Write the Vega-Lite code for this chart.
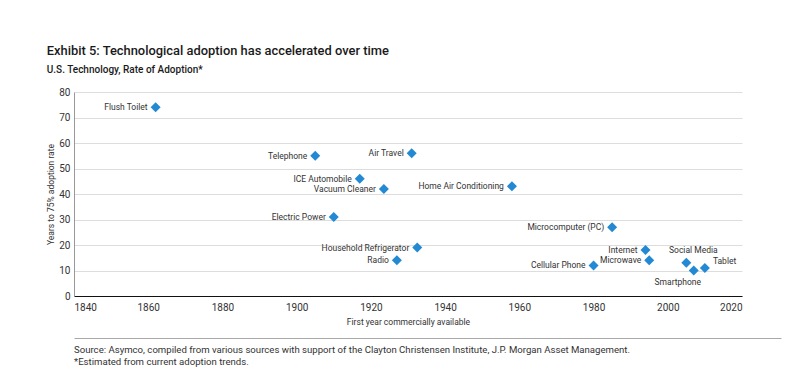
{
  "$schema": "https://vega.github.io/schema/vega-lite/v6.json",
  "background": "white",
  "padding": {"left": 46, "top": 45, "right": 10, "bottom": 2},
  "config": {"view": {"stroke": null}, "font": "Roboto"},
  "title": {
    "text": "Exhibit 5: Technological adoption has accelerated over time",
    "subtitle": "U.S. Technology, Rate of Adoption*",
    "anchor": "start",
    "font": "Roboto",
    "fontSize": 12.9,
    "fontWeight": 500,
    "color": "#1a1a1a",
    "subtitleFont": "Roboto",
    "subtitleFontSize": 10,
    "subtitleFontWeight": 500,
    "subtitleColor": "#1a1a1a",
    "subtitlePadding": 7,
    "offset": 12
  },
  "spacing": 12,
  "vconcat": [
    {
      "width": 668,
      "height": 204,
      "data": {
        "values": [
          {"name": "Flush Toilet", "year": 1862, "years": 74},
          {"name": "Telephone", "year": 1905, "years": 55},
          {"name": "Air Travel", "year": 1931, "years": 56},
          {"name": "ICE Automobile", "year": 1917, "years": 46},
          {"name": "Vacuum Cleaner", "year": 1923.5, "years": 42},
          {"name": "Electric Power", "year": 1910, "years": 31},
          {"name": "Household Refrigerator", "year": 1932.5, "years": 19},
          {"name": "Radio", "year": 1927, "years": 14},
          {"name": "Home Air Conditioning", "year": 1958, "years": 43},
          {"name": "Microcomputer (PC)", "year": 1985, "years": 27},
          {"name": "Internet", "year": 1994, "years": 18},
          {"name": "Microwave", "year": 1995, "years": 14},
          {"name": "Cellular Phone", "year": 1980, "years": 12},
          {"name": "Social Media", "year": 2005, "years": 13},
          {"name": "Smartphone", "year": 2007, "years": 10},
          {"name": "Tablet", "year": 2010, "years": 11}
        ]
      },
      "encoding": {
        "x": {
          "field": "year",
          "type": "quantitative",
          "scale": {"domain": [1840, 2020], "nice": false, "zero": false},
          "axis": {
            "values": [1840, 1860, 1880, 1900, 1920, 1940, 1960, 1980, 2000, 2020],
            "format": "d",
            "title": "First year commercially available",
            "grid": false,
            "ticks": false,
            "domainColor": "#111",
            "domainWidth": 1.2,
            "labelFontSize": 10,
            "labelColor": "#333",
            "labelPadding": 6,
            "titleFontSize": 8.5,
            "titleFontWeight": "normal",
            "titleColor": "#333",
            "titlePadding": 5
          }
        },
        "y": {
          "field": "years",
          "type": "quantitative",
          "scale": {"domain": [0, 80], "nice": false},
          "axis": {
            "values": [0, 10, 20, 30, 40, 50, 60, 70, 80],
            "title": "Years to 75% adoption rate",
            "grid": true,
            "gridColor": "#dddddd",
            "ticks": false,
            "domainColor": "#999",
            "labelFontSize": 10,
            "labelColor": "#333",
            "labelPadding": 4,
            "titleFontSize": 8.5,
            "titleFontWeight": "normal",
            "titleColor": "#333",
            "titlePadding": 3
          }
        }
      },
      "layer": [
        {
          "mark": {"type": "point", "shape": "diamond", "filled": true, "size": 100, "color": "#2389d2", "opacity": 1}
        },
        {
          "transform": [{"filter": "datum.name != 'Social Media' && datum.name != 'Smartphone' && datum.name != 'Tablet'"}],
          "mark": {"type": "text", "align": "right", "baseline": "middle", "dx": -8, "fontSize": 8.5, "color": "#333"},
          "encoding": {"text": {"field": "name"}}
        },
        {
          "transform": [{"filter": "datum.name == 'Social Media'"}],
          "mark": {"type": "text", "align": "center", "baseline": "middle", "dx": 7, "dy": -13, "fontSize": 8.5, "color": "#333"},
          "encoding": {"text": {"field": "name"}}
        },
        {
          "transform": [{"filter": "datum.name == 'Smartphone'"}],
          "mark": {"type": "text", "align": "center", "baseline": "middle", "dx": -16, "dy": 11, "fontSize": 8.5, "color": "#333"},
          "encoding": {"text": {"field": "name"}}
        },
        {
          "transform": [{"filter": "datum.name == 'Tablet'"}],
          "mark": {"type": "text", "align": "left", "baseline": "middle", "dx": 8, "dy": -7, "fontSize": 8.5, "color": "#333"},
          "encoding": {"text": {"field": "name"}}
        }
      ]
    },
    {
      "width": 707,
      "height": 24,
      "data": {
        "values": [
          {"line": 1, "text": "Source: Asymco, compiled from various sources with support of the Clayton Christensen Institute, J.P. Morgan Asset Management."},
          {"line": 2, "text": "*Estimated from current adoption trends."}
        ]
      },
      "mark": {"type": "text", "align": "left", "baseline": "middle", "fontSize": 9.6, "color": "#333"},
      "encoding": {
        "x": {
          "datum": 0,
          "type": "quantitative",
          "scale": {"domain": [0, 1]},
          "axis": {"orient": "top", "labels": false, "ticks": false, "grid": false, "title": null, "domain": true, "domainColor": "#a8a8a8", "domainWidth": 1}
        },
        "y": {"field": "line", "type": "quantitative", "scale": {"domain": [0, 2], "reverse": true}, "axis": null},
        "text": {"field": "text"}
      }
    }
  ]
}
